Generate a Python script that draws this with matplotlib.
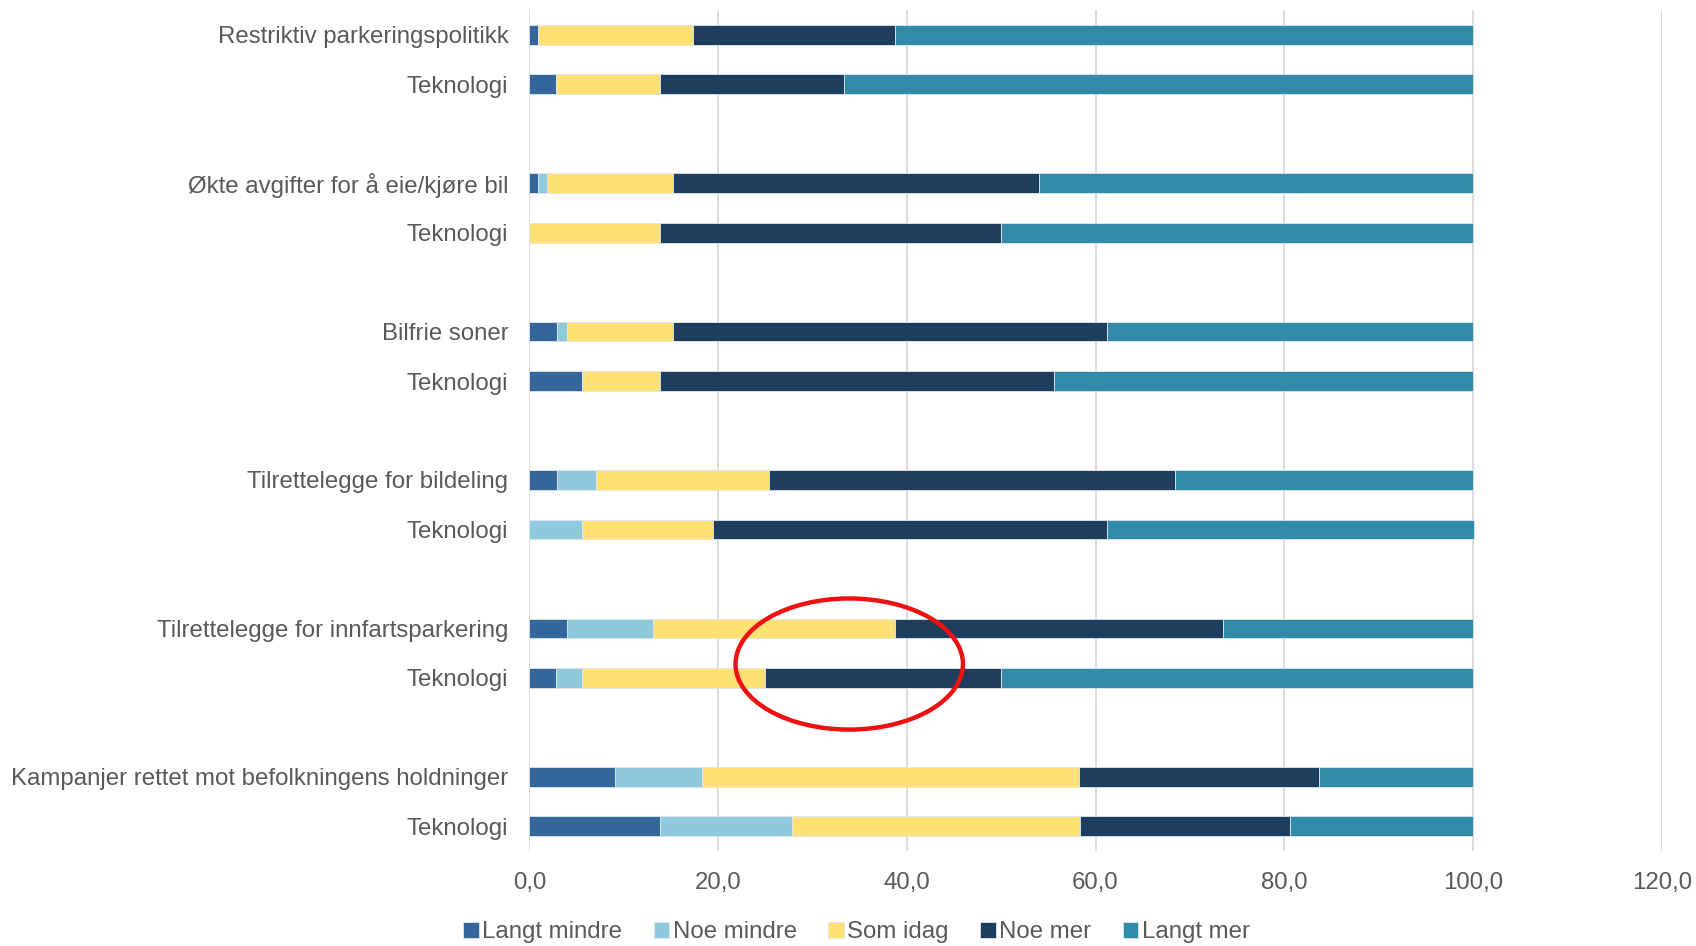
import numpy as np
import matplotlib.pyplot as plt
from matplotlib.patches import Ellipse

plt.rcParams["font.family"] = ["Liberation Sans", "DejaVu Sans"]

labels = [
    "Restriktiv parkeringspolitikk", "Teknologi",
    "Økte avgifter for å eie/kjøre bil", "Teknologi",
    "Bilfrie soner", "Teknologi",
    "Tilrettelegge for bildeling", "Teknologi",
    "Tilrettelegge for innfartsparkering", "Teknologi",
    "Kampanjer rettet mot befolkningens holdninger", "Teknologi",
]

series = ["Langt mindre", "Noe mindre", "Som idag", "Noe mer", "Langt mer"]

langt_mindre = [0.9, 2.8, 0.9, 0.0, 2.9, 5.6, 2.9, 0.0, 4.0, 2.8, 9.1, 13.9]
noe_mindre = [0.0, 0.0, 1.0, 0.0, 1.1, 0.0, 4.2, 5.6, 9.1, 2.8, 9.2, 13.9]
som_idag = [16.4, 11.1, 13.3, 13.9, 11.2, 8.3, 18.3, 13.9, 25.6, 19.4, 39.9, 30.6]
noe_mer = [21.4, 19.4, 38.8, 36.1, 46.0, 41.7, 43.0, 41.7, 34.8, 25.0, 25.5, 22.2]
langt_mer = [61.3, 66.7, 46.0, 50.0, 38.8, 44.4, 31.6, 38.9, 26.5, 50.0, 16.3, 19.4]

colors = ["#346699", "#8ECADB", "#FFE074", "#1F3D5C", "#318AA8"]
text_color = "#595959"

# two bars per group, one empty slot between groups
ypos = [(i // 2) * 3 + (i % 2) for i in range(len(labels))]

fig = plt.figure(figsize=(16.96, 9.46), dpi=100)
ax = fig.add_axes([0.3121, 0.1004, 0.9798 - 0.3121, 0.9894 - 0.1004])

left = np.zeros(len(labels))
for name, vals, col in zip(series, [langt_mindre, noe_mindre, som_idag, noe_mer, langt_mer], colors):
    ax.barh(ypos, vals, left=left, height=0.4, color=col, edgecolor="#DDE6EE",
            linewidth=0.6, label=name, zorder=3)
    left += np.array(vals)

ax.set_xlim(0, 120)
ax.set_ylim(max(ypos) + 0.5, -0.5)
ax.set_xticks(np.arange(0, 121, 20))
ax.set_xticklabels([f"{v:.1f}".replace(".", ",") for v in np.arange(0, 121, 20)])
ax.set_yticks(ypos)
ax.set_yticklabels(labels)
ax.tick_params(length=0, labelsize=17.3, colors=text_color)
ax.tick_params(axis="x", pad=15)
ax.tick_params(axis="y", pad=15)
ax.grid(axis="x", color="#D9D9D9", linewidth=1.3, zorder=0)
for s in ax.spines.values():
    s.set_visible(False)

# red circle highlighting the technology bar
ax.add_patch(Ellipse((33.9, 12.72), 24.1, 2.65, fill=False, edgecolor="#EE1111",
                     linewidth=3.2, zorder=5, clip_on=False))

fig.legend(loc="center", bbox_to_anchor=(0.505, 1 - 932 / 946), ncol=5, frameon=False,
           fontsize=17.3, handlelength=0.65, handleheight=0.65, handletextpad=0.15,
           columnspacing=1.3, labelcolor=text_color)

fig.savefig("out.png", dpi=100, facecolor="white")
